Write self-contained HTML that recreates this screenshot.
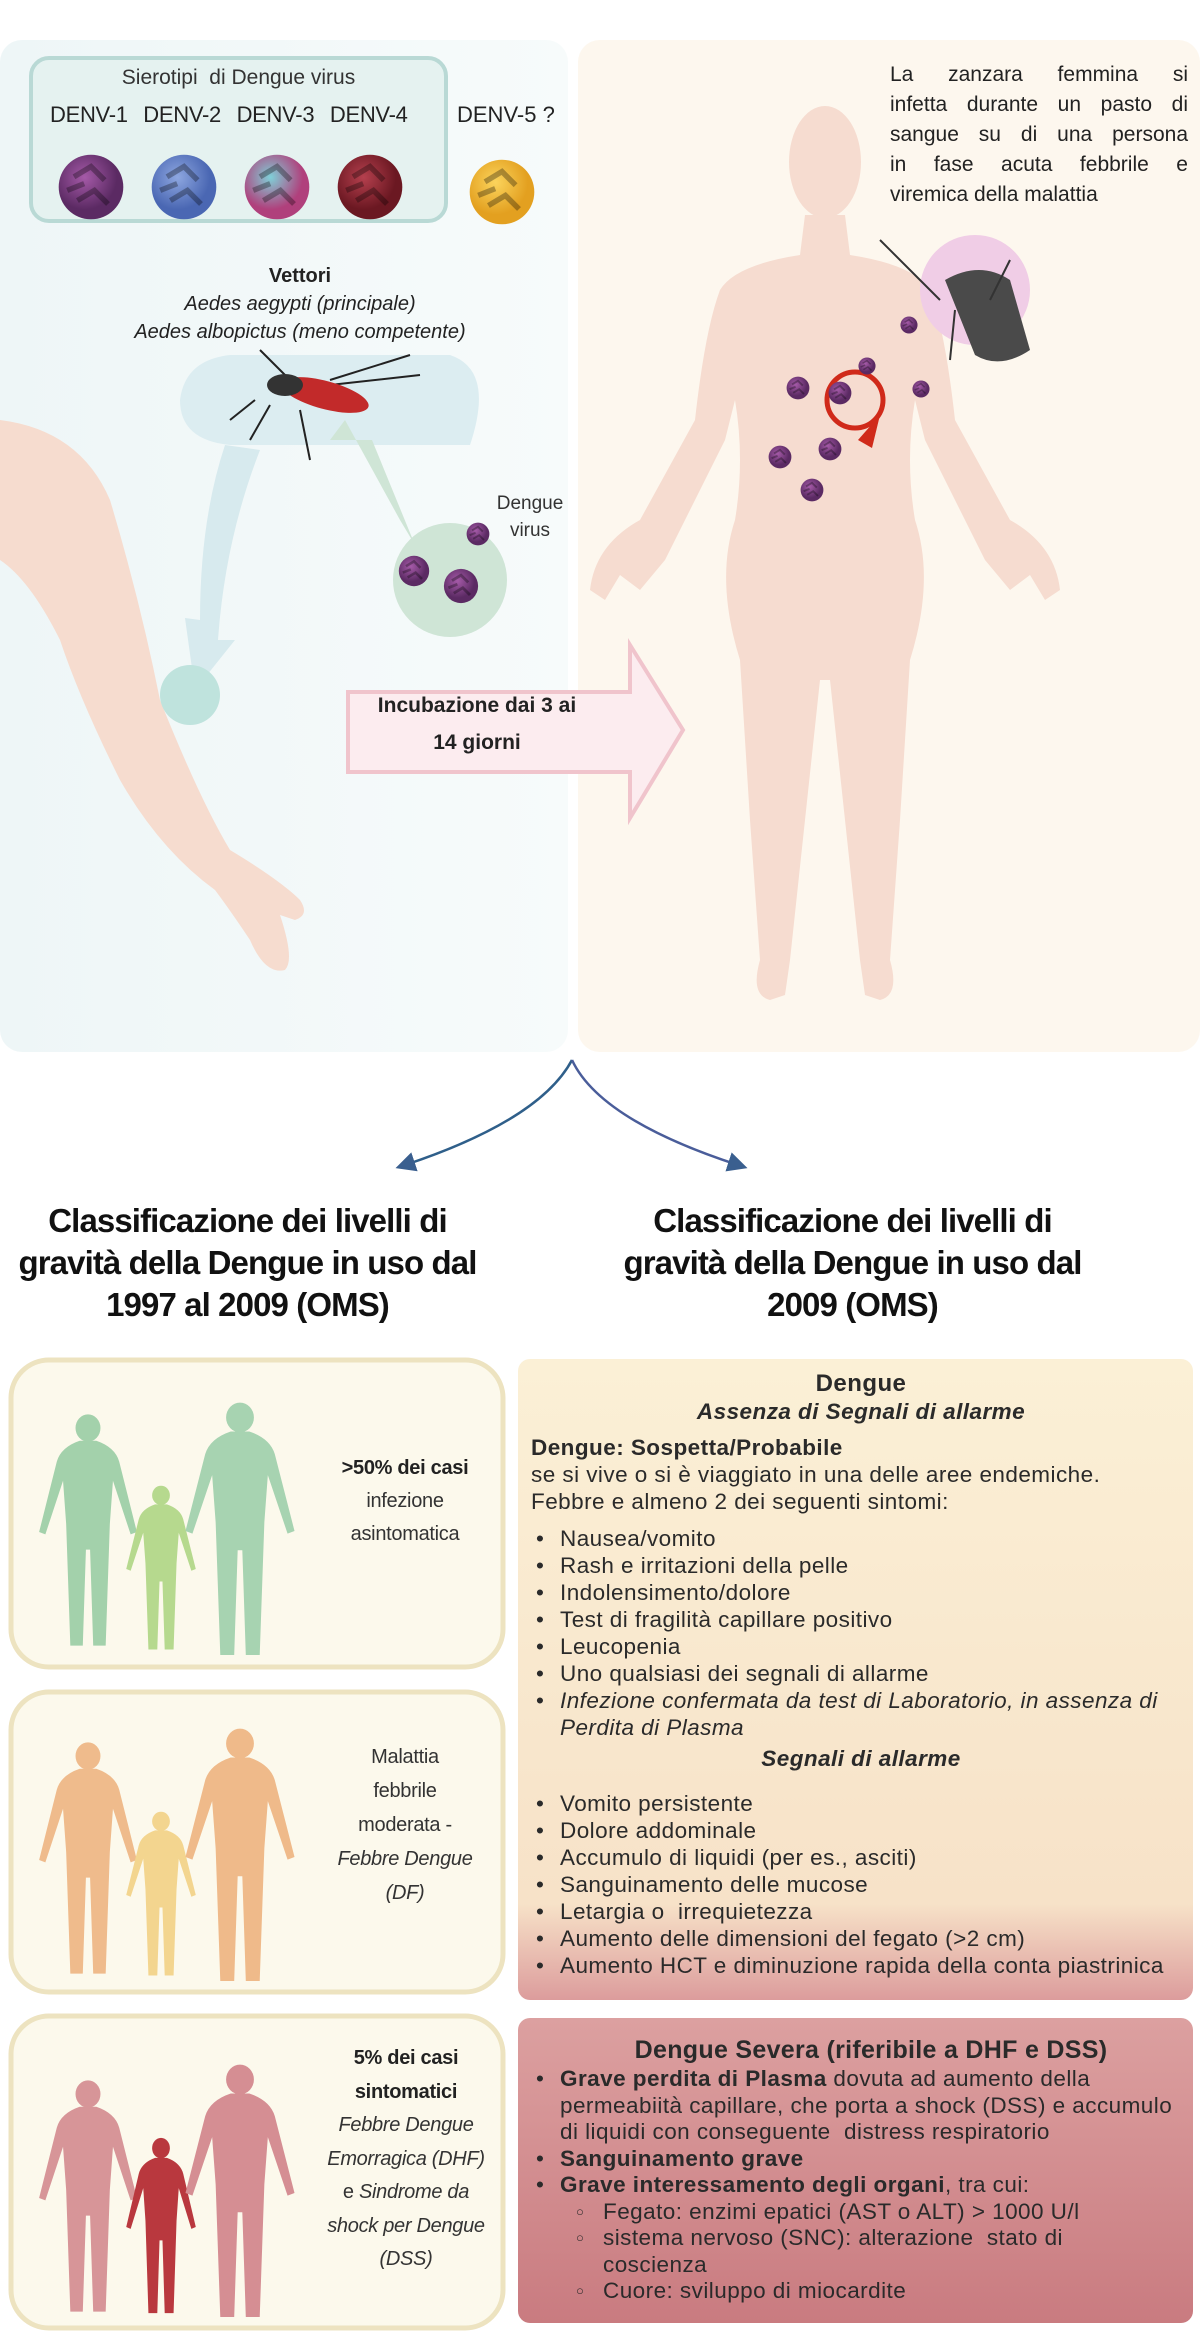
<!DOCTYPE html>
<html><head><meta charset="utf-8">
<style>
*{margin:0;padding:0;box-sizing:border-box}
body{width:1200px;height:2338px;position:relative;background:#fff;font-family:"Liberation Sans",sans-serif;color:#222;overflow:hidden}
.a{position:absolute}
.c{text-align:center}
.h{font-weight:bold;font-size:33px;line-height:42px;letter-spacing:-0.9px;color:#111}
.lt{font-size:20px;line-height:33px;color:#333;text-align:center;letter-spacing:-0.3px}
.rb{font-size:22.5px;line-height:27px;color:#2a2a2a;letter-spacing:0.45px}
ul{list-style:none}
ul li{position:relative;padding-left:29px}
ul li:before{content:"•";position:absolute;left:5px;top:0}
ul.o li:before{content:"○";font-size:13px;left:2px}
.j{text-align:justify;text-align-last:justify;white-space:nowrap}
</style></head><body>
<svg class="a" style="left:0;top:0" width="1200" height="2338" viewBox="0 0 1200 2338">
<defs>
<radialGradient id="vp" cx="40%" cy="35%"><stop offset="0" stop-color="#a55aa8"/><stop offset="1" stop-color="#5b2a63"/></radialGradient>
<radialGradient id="vb" cx="40%" cy="35%"><stop offset="0" stop-color="#8ea7e0"/><stop offset="1" stop-color="#4a67b3"/></radialGradient>
<radialGradient id="vc" cx="40%" cy="35%"><stop offset="0" stop-color="#7fd0d8"/><stop offset="1" stop-color="#b0407c"/></radialGradient>
<radialGradient id="vr" cx="40%" cy="35%"><stop offset="0" stop-color="#b5404e"/><stop offset="1" stop-color="#6b1822"/></radialGradient>
<radialGradient id="vy" cx="40%" cy="35%"><stop offset="0" stop-color="#fbd45c"/><stop offset="1" stop-color="#e3a020"/></radialGradient>
<linearGradient id="g1" x1="0" y1="0" x2="0" y2="1"><stop offset="0" stop-color="#fbf0d6"/><stop offset="0.85" stop-color="#f7e2c8"/><stop offset="1" stop-color="#dc9c9c"/></linearGradient>
<linearGradient id="g2" x1="0" y1="0" x2="0" y2="1"><stop offset="0" stop-color="#dca0a0"/><stop offset="1" stop-color="#c97b80"/></linearGradient>
<linearGradient id="lb" x1="0" y1="0" x2="1" y2="0"><stop offset="0" stop-color="#eef6f7"/><stop offset="1" stop-color="#f7fbfb"/></linearGradient>
<symbol id="p" viewBox="0 0 100 300" preserveAspectRatio="none"><ellipse cx="50" cy="20" rx="12" ry="17"/><path d="M42,36 L58,36 Q76,44 80,62 L97,150 L91,153 L74,86 L71,140 L67,292 L55,292 L52,172 L48,172 L45,292 L33,292 L29,140 L26,86 L9,153 L3,150 L20,62 Q24,44 42,36Z"/></symbol>
<symbol id="v" viewBox="-10 -10 20 20"><circle r="9.5"/><path d="M-5,-3 L0,-6 L4,-2 M-4,4 L1,1 L5,5 M-7,1 L-2,-1" stroke="#000" stroke-opacity="0.3" stroke-width="1.6" fill="none"/></symbol>
<marker id="ah" markerWidth="8" markerHeight="8" refX="4" refY="4" orient="auto"><path d="M0,0 L8,4 L0,8 Z" fill="#3a5f8f"/></marker>
</defs>
<rect x="0" y="40" width="568" height="1012" rx="22" fill="url(#lb)"/>
<rect x="578" y="40" width="622" height="1012" rx="22" fill="#fdf7ee"/>
<rect x="31" y="58" width="415" height="163" rx="18" fill="#e5f2f0" stroke="#b9d9d5" stroke-width="4"/>
<use href="#v" x="57" y="153" width="68" height="68" fill="url(#vp)"/>
<use href="#v" x="150" y="153" width="68" height="68" fill="url(#vb)"/>
<use href="#v" x="243" y="153" width="68" height="68" fill="url(#vc)"/>
<use href="#v" x="336" y="153" width="68" height="68" fill="url(#vr)"/>
<use href="#v" x="468" y="158" width="68" height="68" fill="url(#vy)"/>
<path d="M0,420 Q80,430 110,500 Q140,600 160,700 Q200,800 230,850 Q280,880 300,900 Q310,915 295,920 L280,915 Q295,960 285,970 Q265,975 250,940 Q230,910 215,890 Q160,850 120,780 Q80,700 60,640 Q30,580 0,560Z" fill="#f6dccf"/>
<path d="M230,355 L450,355 Q495,370 470,445 L230,445 Q180,440 180,400 Q185,360 230,355Z" fill="#dcedf1"/>
<path d="M225,445 Q200,520 200,620 L185,618 L195,690 L235,640 L218,640 Q225,540 260,450Z" fill="#d7eaee"/>
<circle cx="190" cy="695" r="30" fill="#bfe3dd"/>
<circle cx="450" cy="580" r="57" fill="#cfe5d6"/>
<path d="M400,520 L345,420 L330,440 L372,440 L415,545Z" fill="#cfe5d6"/>
<g stroke="#222" stroke-width="2" fill="none"><path d="M255,400 L230,420 M270,405 L250,440 M300,410 L310,460 M290,380 L260,350 M330,380 L410,355 M330,385 L420,375"/></g>
<ellipse cx="325" cy="395" rx="45" ry="14" fill="#c22a2a" transform="rotate(15 325 395)"/>
<ellipse cx="285" cy="385" rx="18" ry="11" fill="#333"/>
<use href="#v" x="398" y="555" width="32" height="32" fill="url(#vp)"/>
<use href="#v" x="466" y="522" width="24" height="24" fill="url(#vp)"/>
<use href="#v" x="443" y="568" width="36" height="36" fill="url(#vp)"/>
<path d="M348,692 L630,692 L630,645 L683,730 L630,818 L630,772 L348,772Z" fill="#fcecef" stroke="#f0c4cc" stroke-width="4"/>
<path d="M805,215 L845,215 L850,255 Q915,265 930,290 Q945,330 955,420 L1010,520 Q1055,545 1060,590 L1045,600 L1030,575 L1010,590 L985,560 L925,440 L915,400 Q905,460 915,520 Q935,580 910,660 L900,820 L890,960 Q900,995 880,1000 L865,995 L860,960 L845,820 L830,680 L820,680 L805,820 L790,960 L785,995 L770,1000 Q750,995 760,960 L750,820 L740,660 Q715,580 735,520 Q745,460 735,400 L725,440 L665,560 L640,590 L620,575 L605,600 L590,590 Q595,545 640,520 L695,420 Q705,330 720,290 Q735,265 800,255Z" fill="#f6dcd0"/>
<ellipse cx="825" cy="162" rx="36" ry="56" fill="#f6dcd0"/>
<circle cx="975" cy="290" r="55" fill="#f0cde6"/>
<path d="M945,280 Q980,260 1010,280 L1030,350 Q1000,370 975,355 Z" fill="#4a4a4a"/>
<g stroke="#333" stroke-width="2" fill="none"><path d="M940,300 L880,240 M955,310 L950,360 M990,300 L1010,260"/></g>
<circle cx="855" cy="400" r="28" fill="none" stroke="#d02a1a" stroke-width="5"/>
<path d="M858,440 L880,415 L872,448Z" fill="#d02a1a"/>
<use href="#v" x="786" y="376" width="24" height="24" fill="url(#vp)"/>
<use href="#v" x="828" y="381" width="24" height="24" fill="url(#vp)"/>
<use href="#v" x="818" y="437" width="24" height="24" fill="url(#vp)"/>
<use href="#v" x="768" y="445" width="24" height="24" fill="url(#vp)"/>
<use href="#v" x="800" y="478" width="24" height="24" fill="url(#vp)"/>
<use href="#v" x="858" y="357" width="18" height="18" fill="url(#vp)"/>
<use href="#v" x="900" y="316" width="18" height="18" fill="url(#vp)"/>
<use href="#v" x="912" y="380" width="18" height="18" fill="url(#vp)"/>
<path d="M572,1060 Q540,1120 405,1165" stroke="#2f5f8a" stroke-width="2.5" fill="none" marker-end="url(#ah)"/>
<path d="M572,1060 Q600,1120 738,1165" stroke="#4a5d9a" stroke-width="2.5" fill="none" marker-end="url(#ah)"/>
<rect x="11" y="1360" width="492" height="307" rx="38" fill="#fcf9ec" stroke="#ede3c0" stroke-width="5"/>
<rect x="11" y="1692" width="492" height="300" rx="38" fill="#fcf9ec" stroke="#ede3c0" stroke-width="5"/>
<rect x="11" y="2016" width="492" height="312" rx="38" fill="#fcf9ec" stroke="#ede3c0" stroke-width="5"/>
<rect x="518" y="1359" width="675" height="641" rx="12" fill="url(#g1)"/>
<rect x="518" y="2018" width="675" height="305" rx="12" fill="url(#g2)"/>
<use href="#p" x="36" y="1412" width="104" height="240" fill="#a3d1ab"/>
<use href="#p" x="124" y="1484" width="74" height="170" fill="#b6d98e"/>
<use href="#p" x="182" y="1400" width="116" height="262" fill="#a7d3b1"/>
<use href="#p" x="36" y="1740" width="104" height="240" fill="#efbb8c"/>
<use href="#p" x="124" y="1810" width="74" height="170" fill="#f3d58f"/>
<use href="#p" x="182" y="1726" width="116" height="262" fill="#efba8a"/>
<use href="#p" x="36" y="2078" width="104" height="240" fill="#d79598"/>
<use href="#p" x="124" y="2136" width="74" height="182" fill="#b9383e"/>
<use href="#p" x="182" y="2062" width="116" height="262" fill="#d58e93"/>
</svg>

<div class="a c" style="left:31px;top:66px;width:415px;font-size:21px;color:#333">Sierotipi&nbsp; di Dengue virus</div>
<div class="a" style="left:50px;top:102px;font-size:22px;color:#222;word-spacing:2px;letter-spacing:-0.3px">DENV-1&nbsp; DENV-2&nbsp; DENV-3&nbsp; DENV-4</div>
<div class="a" style="left:457px;top:102px;font-size:22px;color:#222">DENV-5 ?</div>
<div class="a c" style="left:80px;top:262px;width:440px;font-size:20px;line-height:28px;color:#222"><b>Vettori</b><br><i>Aedes aegypti (principale)</i><br><i>Aedes albopictus (meno competente)</i></div>
<div class="a c" style="left:470px;top:490px;width:120px;font-size:19px;line-height:27px;color:#333">Dengue<br>virus</div>
<div class="a c" style="left:352px;top:687px;width:250px;font-size:21px;line-height:37px;font-weight:bold;color:#222">Incubazione dai 3 ai<br>14 giorni</div>
<div class="a" style="left:890px;top:60px;width:298px;font-size:21px;line-height:30px;color:#222">
<div class="j">La zanzara femmina si</div><div class="j">infetta durante un pasto di</div><div class="j">sangue su di una persona</div><div class="j">in fase acuta febbrile e</div><div style="white-space:nowrap">viremica della malattia</div></div>

<div class="a c h" style="left:0;top:1200px;width:495px">Classificazione dei livelli di<br>gravità della Dengue in uso dal<br>1997 al 2009 (OMS)</div>
<div class="a c h" style="left:605px;top:1200px;width:495px">Classificazione dei livelli di<br>gravità della Dengue in uso dal<br>2009 (OMS)</div>

<div class="a lt" style="left:300px;top:1452px;width:210px"><b style="color:#222">&gt;50% dei casi</b><br>infezione<br>asintomatica</div>
<div class="a lt" style="left:300px;top:1740px;width:210px;line-height:34px">Malattia<br>febbrile<br>moderata -<br><i>Febbre Dengue<br>(DF)</i></div>
<div class="a lt" style="left:296px;top:2042px;width:220px;line-height:33.5px"><b style="color:#222">5% dei casi<br>sintomatici</b><br><i>Febbre Dengue<br>Emorragica (DHF)</i><br>e <i>Sindrome da<br>shock per Dengue<br>(DSS)</i></div>

<div class="a rb" style="left:531px;top:1370px;width:660px">
<div class="c" style="font-weight:bold;font-size:24px;line-height:28px">Dengue</div>
<div class="c" style="font-weight:bold;font-style:italic;line-height:28px">Assenza di Segnali di allarme</div>
<div style="margin-top:8px"><b>Dengue: Sospetta/Probabile</b><br>se si vive o si è viaggiato in una delle aree endemiche.<br>Febbre e almeno 2 dei seguenti sintomi:</div>
<ul style="margin-top:10px"><li>Nausea/vomito</li><li>Rash e irritazioni della pelle</li><li>Indolensimento/dolore</li><li>Test di fragilità capillare positivo</li><li>Leucopenia</li><li>Uno qualsiasi dei segnali di allarme</li><li><i>Infezione confermata da test di Laboratorio, in assenza di<br>Perdita di Plasma</i></li></ul>
<div class="c" style="font-weight:bold;font-style:italic;margin-top:4px">Segnali di allarme</div>
<ul style="margin-top:18px"><li>Vomito persistente</li><li>Dolore addominale</li><li>Accumulo di liquidi (per es., asciti)</li><li>Sanguinamento delle mucose</li><li>Letargia o&nbsp; irrequietezza</li><li>Aumento delle dimensioni del fegato (&gt;2 cm)</li><li style="white-space:nowrap">Aumento HCT e diminuzione rapida della conta piastrinica</li></ul>
</div>

<div class="a rb" style="left:531px;top:2034px;width:660px;line-height:26.5px">
<div class="c" style="font-weight:bold;font-size:25px;line-height:32px;padding-left:20px;letter-spacing:0.3px">Dengue Severa (riferibile a DHF e DSS)</div>
<ul><li><b>Grave perdita di Plasma</b> dovuta ad aumento della<br>permeabiità capillare, che porta a shock (DSS) e accumulo<br>di liquidi con conseguente&nbsp; distress respiratorio</li><li><b>Sanguinamento grave</b></li><li><b>Grave interessamento degli organi</b>, tra cui:
<ul class="o" style="padding-left:14px"><li>Fegato: enzimi epatici (AST o ALT) &gt; 1000 U/l</li><li>sistema nervoso (SNC): alterazione&nbsp; stato di<br>coscienza</li><li>Cuore: sviluppo di miocardite</li></ul></li></ul>
</div>
</body></html>
